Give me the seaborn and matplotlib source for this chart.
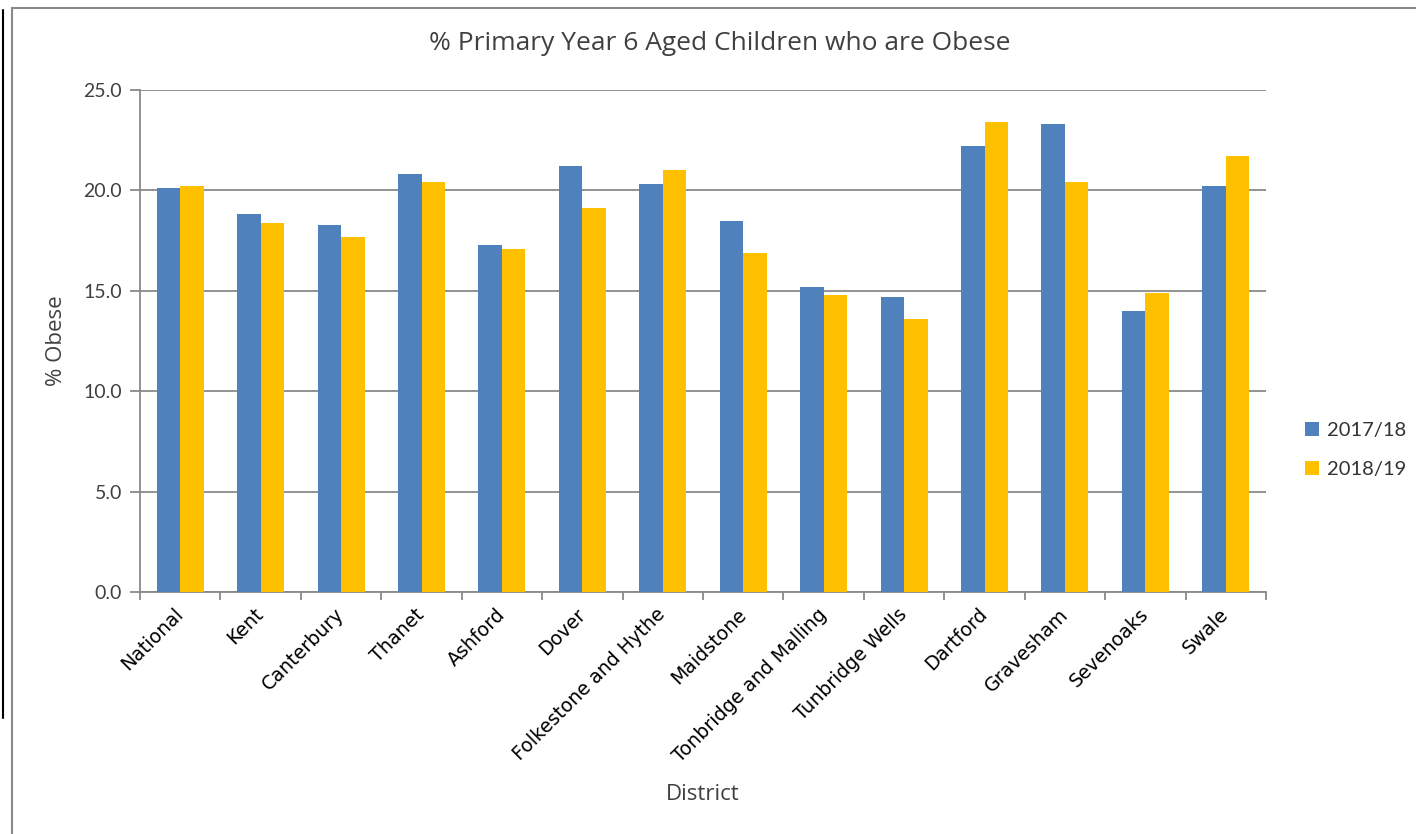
import numpy as np
import pandas as pd
import matplotlib
matplotlib.use('Agg')
import matplotlib.pyplot as plt
import seaborn as sns
from matplotlib.patches import Rectangle
from matplotlib.lines import Line2D

districts = ['National', 'Kent', 'Canterbury', 'Thanet', 'Ashford', 'Dover',
             'Folkestone and Hythe', 'Maidstone', 'Tonbridge and Malling',
             'Tunbridge Wells', 'Dartford', 'Gravesham', 'Sevenoaks', 'Swale']
obese_1718 = [20.1, 18.8, 18.3, 20.8, 17.3, 21.2, 20.3, 18.5, 15.2, 14.7, 22.2, 23.3, 14.0, 20.2]
obese_1819 = [20.2, 18.4, 17.7, 20.4, 17.1, 19.1, 21.0, 16.9, 14.8, 13.6, 23.4, 20.4, 14.9, 21.7]
years = ['2017/18', '2018/19']
colours = ['#4F81BD', '#FFC000']

df = pd.DataFrame({
    'District': districts * 2,
    'Obese': obese_1718 + obese_1819,
    'Year': [years[0]] * len(districts) + [years[1]] * len(districts),
})

sns.set_style('white')
plt.rcParams['font.family'] = ['Lato', 'DejaVu Sans']

fig = plt.figure(figsize=(14.16, 8.34), dpi=100)
ax = fig.add_axes([140 / 1416, 1 - 592 / 834, (1266 - 140) / 1416, (592 - 90) / 834])

sns.barplot(data=df, x='District', y='Obese', hue='Year', palette=colours,
            width=0.585, saturation=1, edgecolor='none', ax=ax, zorder=3)

grey = '#898989'
ax.set_ylim(0, 25)
ax.set_xlim(-0.5, len(districts) - 0.5)
ax.set_yticks(np.arange(0, 25.1, 5))
ax.set_yticklabels([f'{v:.1f}' for v in np.arange(0, 25.1, 5)], color='#404040', fontsize=14)
ax.yaxis.grid(True, color=grey, linewidth=1.3, zorder=0)
ax.tick_params(axis='y', direction='out', length=7, width=1.3, color=grey, left=True, pad=6)

ax.set_xticks(np.arange(len(districts)))
ax.set_xticklabels(districts, rotation=45, ha='right', va='center', rotation_mode='anchor',
                   fontsize=13.7, family='DejaVu Sans', color='black')
ax.tick_params(axis='x', which='major', length=0, pad=14)
ax.set_xticks(np.arange(-0.5, len(districts)), minor=True)
ax.tick_params(axis='x', which='minor', direction='out', length=6, width=1.3, color=grey, bottom=True)

for side in ['top', 'right']:
    ax.spines[side].set_visible(False)
for side in ['left', 'bottom']:
    ax.spines[side].set_color(grey)
    ax.spines[side].set_linewidth(1.3)

ax.set_ylabel('% Obese', color='#404040', fontsize=16, family='Open Sans', labelpad=12)
ax.set_xlabel('')
fig.text(703 / 1416, 1 - 795 / 834, 'District', ha='center', va='center',
         color='#404040', fontsize=16, family='Open Sans')
fig.text(720 / 1416, 1 - 44 / 834, '% Primary Year 6 Aged Children who are Obese',
         ha='center', va='center', color='#404040', fontsize=19, family='Open Sans')

ax.legend(loc='center left', bbox_to_anchor=(1297 / 1416, 1 - 450 / 834),
          bbox_transform=fig.transFigure, frameon=False, fontsize=14.5,
          handlelength=0.7, handleheight=0.7, handletextpad=0.4, labelspacing=1.1,
          labelcolor='#333333', borderaxespad=0)

# outer chart frame
fig.patches.append(Rectangle((12 / 1416, -0.05), 1.1, 1 - 8 / 834 + 0.05,
                             transform=fig.transFigure, fill=False,
                             edgecolor=grey, linewidth=1.5))
fig.lines.append(Line2D([3 / 1416, 3 / 1416], [1 - 10 / 834, 1 - 718 / 834],
                        transform=fig.transFigure, color='black', linewidth=1.5))

fig.savefig('out.png', dpi=100)
